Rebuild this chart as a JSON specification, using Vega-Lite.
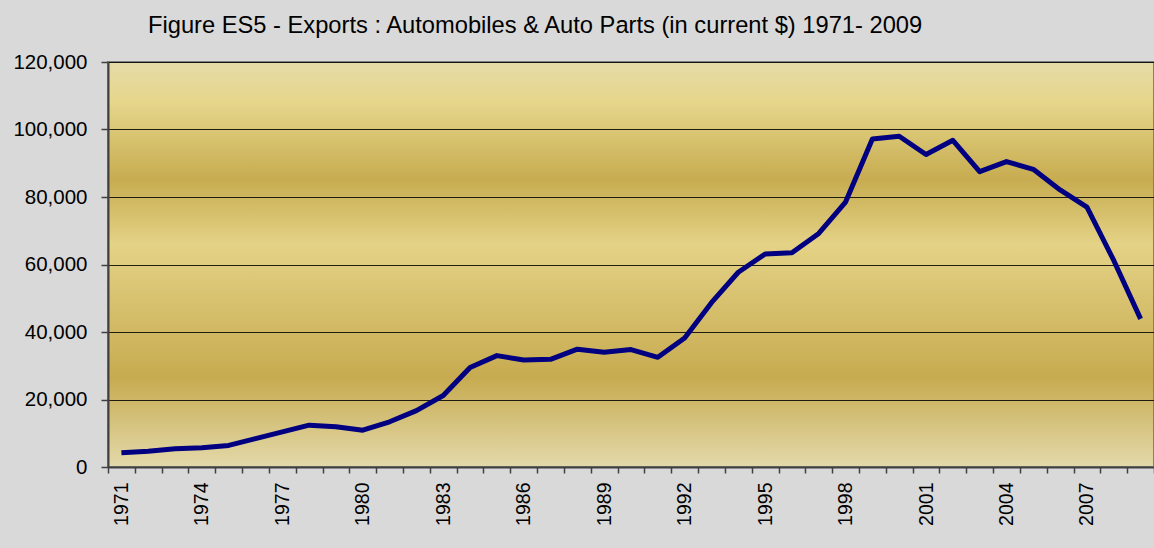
{
  "$schema": "https://vega.github.io/schema/vega-lite/v6.json",
  "width": 1046,
  "height": 405,
  "autosize": {"type": "none"},
  "padding": {"left": 108, "top": 62, "right": 0, "bottom": 81},
  "background": "#d9d9d9",
  "title": {
    "text": "Figure ES5 - Exports : Automobiles & Auto Parts (in current $) 1971- 2009",
    "anchor": "start",
    "frame": "group",
    "dx": 40,
    "offset": 14,
    "font": "Liberation Sans",
    "fontSize": 23.7,
    "fontWeight": "normal",
    "color": "#000000"
  },
  "config": {
    "font": "Liberation Sans",
    "view": {
      "stroke": "#808080",
      "strokeWidth": 2,
      "fill": {
        "gradient": "linear",
        "x1": 0, "y1": 0, "x2": 0, "y2": 1,
        "stops": [
          {"offset": 0, "color": "#e5dba8"},
          {"offset": 0.1, "color": "#e6d68b"},
          {"offset": 0.29, "color": "#c7ac50"},
          {"offset": 0.45, "color": "#e4d286"},
          {"offset": 0.78, "color": "#c7ab50"},
          {"offset": 1, "color": "#e3d9aa"}
        ]
      }
    }
  },
  "data": {
    "values": [
      {"year": 1971, "exports": 4200},
      {"year": 1972, "exports": 4700},
      {"year": 1973, "exports": 5400},
      {"year": 1974, "exports": 5700},
      {"year": 1975, "exports": 6400},
      {"year": 1976, "exports": 8400},
      {"year": 1977, "exports": 10400},
      {"year": 1978, "exports": 12400},
      {"year": 1979, "exports": 11900},
      {"year": 1980, "exports": 10900},
      {"year": 1981, "exports": 13400},
      {"year": 1982, "exports": 16700},
      {"year": 1983, "exports": 21200},
      {"year": 1984, "exports": 29500},
      {"year": 1985, "exports": 33000},
      {"year": 1986, "exports": 31700},
      {"year": 1987, "exports": 31900},
      {"year": 1988, "exports": 34900},
      {"year": 1989, "exports": 34000},
      {"year": 1990, "exports": 34800},
      {"year": 1991, "exports": 32500},
      {"year": 1992, "exports": 38200},
      {"year": 1993, "exports": 48700},
      {"year": 1994, "exports": 57700},
      {"year": 1995, "exports": 63100},
      {"year": 1996, "exports": 63500},
      {"year": 1997, "exports": 69200},
      {"year": 1998, "exports": 78500},
      {"year": 1999, "exports": 97200},
      {"year": 2000, "exports": 98000},
      {"year": 2001, "exports": 92600},
      {"year": 2002, "exports": 96800},
      {"year": 2003, "exports": 87500},
      {"year": 2004, "exports": 90500},
      {"year": 2005, "exports": 88200},
      {"year": 2006, "exports": 82100},
      {"year": 2007, "exports": 77000},
      {"year": 2008, "exports": 61200},
      {"year": 2009, "exports": 43900}
    ]
  },
  "mark": {"type": "line", "color": "#000080", "strokeWidth": 5, "strokeJoin": "round"},
  "encoding": {
    "x": {
      "field": "year",
      "type": "ordinal",
      "scale": {"type": "band", "paddingInner": 0, "paddingOuter": 0},
      "axis": {
        "title": null,
        "labelAngle": -90,
        "labelAlign": "right",
        "labelBaseline": "middle",
        "labelFontSize": 19.5,
        "labelColor": "#000000",
        "labelPadding": 9,
        "labelExpr": "(datum.value - 1971) % 3 == 0 ? datum.label : ''",
        "tickBand": "extent",
        "tickSize": 6,
        "tickColor": "#404040",
        "tickWidth": 1.5,
        "domainColor": "#404040",
        "domainWidth": 2,
        "grid": false
      }
    },
    "y": {
      "field": "exports",
      "type": "quantitative",
      "scale": {"domain": [0, 120000], "nice": false},
      "axis": {
        "title": null,
        "values": [0, 20000, 40000, 60000, 80000, 100000, 120000],
        "format": ",d",
        "labelFontSize": 20.5,
        "labelColor": "#000000",
        "labelPadding": 14,
        "tickSize": 7,
        "tickColor": "#404040",
        "tickWidth": 1.5,
        "domainColor": "#404040",
        "domainWidth": 2,
        "grid": true,
        "gridColor": "#000000",
        "gridOpacity": 0.85,
        "gridWidth": 1
      }
    }
  }
}
